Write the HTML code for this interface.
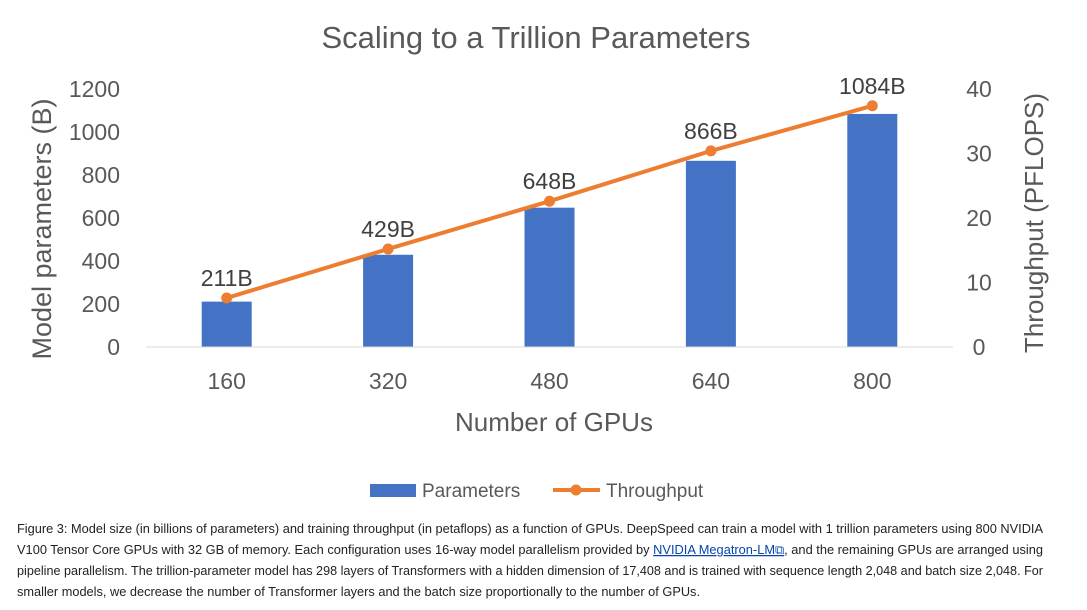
<!DOCTYPE html>
<html><head><meta charset="utf-8"><style>
html,body{margin:0;padding:0;background:#fff;width:1087px;height:610px;overflow:hidden}
svg{display:block;font-family:"Liberation Sans",sans-serif}
</style></head><body>
<svg id="chart" width="1087" height="610" viewBox="0 0 1087 610">
<text x="536" y="48" text-anchor="middle" font-size="31" fill="#595959">Scaling to a Trillion Parameters</text>
<g id="plot"></g>
<text x="554" y="431" text-anchor="middle" font-size="26" fill="#595959">Number of GPUs</text>
<text transform="translate(51,229) rotate(-90)" text-anchor="middle" font-size="27" fill="#595959">Model parameters (B)</text>
<text transform="translate(1043,223) rotate(-90)" text-anchor="middle" font-size="26" fill="#595959">Throughput (PFLOPS)</text>
<g>
<rect x="370" y="484" width="46" height="13" fill="#4472C4"/>
<text x="422" y="497" font-size="19" fill="#595959">Parameters</text>
<line x1="553" y1="490" x2="600" y2="490" stroke="#ED7D31" stroke-width="4"/>
<circle cx="576" cy="490" r="5.5" fill="#ED7D31"/>
<text x="606" y="497" font-size="19" fill="#595959">Throughput</text>
</g>
<g font-size="12.5" fill="#222">
<text x="17" y="533" textLength="1026" lengthAdjust="spacingAndGlyphs">Figure 3: Model size (in billions of parameters) and training throughput (in petaflops) as a function of GPUs. DeepSpeed can train a model with 1 trillion parameters using 800 NVIDIA</text>
<text x="17" y="554" textLength="1026" lengthAdjust="spacingAndGlyphs">V100 Tensor Core GPUs with 32 GB of memory. Each configuration uses 16-way model parallelism provided by <tspan fill="#0645ad" text-decoration="underline">NVIDIA Megatron-LM⧉</tspan>, and the remaining GPUs are arranged using</text>
<text x="17" y="575" textLength="1026" lengthAdjust="spacingAndGlyphs">pipeline parallelism. The trillion-parameter model has 298 layers of Transformers with a hidden dimension of 17,408 and is trained with sequence length 2,048 and batch size 2,048. For</text>
<text x="17" y="596" textLength="683" lengthAdjust="spacingAndGlyphs">smaller models, we decrease the number of Transformer layers and the batch size proportionally to the number of GPUs.</text>
</g>
</svg>
<script>
const categories = ["160","320","480","640","800"];
const paramValues = [211,429,648,866,1084];
const paramLabels = ["211B","429B","648B","866B","1084B"];
const throughputValues = [7.6,15.2,22.6,30.4,37.4];
const leftTicks = [0,200,400,600,800,1000,1200];
const rightTicks = [0,10,20,30,40];

const NS="http://www.w3.org/2000/svg";
const g=document.getElementById('plot');
const x0=146, x1=953, yBase=347, yTop=89;
const band=(x1-x0)/categories.length;
const xC=i=>x0+band*(i+0.5);
const yL=v=>yBase-(v/1200)*(yBase-yTop);
const yR=v=>yBase-(v/40)*(yBase-yTop);
function mk(tag,attrs,txt){const e=document.createElementNS(NS,tag);for(const k in attrs)e.setAttribute(k,attrs[k]);if(txt!==undefined)e.textContent=txt;g.appendChild(e);return e;}

leftTicks.forEach(t=>{const e=mk('text',{x:120,y:yL(t)+8,'text-anchor':'end','font-size':23,fill:'#595959'},t);

});
rightTicks.forEach(t=>{const e=mk('text',{x:979,y:yR(t)+8,'text-anchor':'middle','font-size':23,fill:'#595959'},t);

});
categories.forEach((c,i)=>{const e=mk('text',{x:xC(i),y:389,'text-anchor':'middle','font-size':23,fill:'#595959'},c);

});

paramValues.forEach((v,i)=>{const b=mk('rect',{x:xC(i)-25,y:yL(v),width:50,height:yBase-yL(v),fill:'#4472C4'});

});
const ax=mk('line',{x1:x0,y1:yBase,x2:x1,y2:yBase,stroke:'#d9d9d9','stroke-width':1});



const pts=throughputValues.map((v,i)=>xC(i)+','+yR(v)).join(' ');
const pl=mk('polyline',{points:pts,fill:'none',stroke:'#ED7D31','stroke-width':4,'stroke-linejoin':'round'});


throughputValues.forEach((v,i)=>{const c=mk('circle',{cx:xC(i),cy:yR(v),r:5.5,fill:'#ED7D31'});

});
paramLabels.forEach((l,i)=>{const y=Math.min(yL(paramValues[i]),yR(throughputValues[i]))-12;
const t=mk('text',{x:xC(i),y:y,'text-anchor':'middle','font-size':23,fill:'#404040'},l);

});
</script>
</body></html>
